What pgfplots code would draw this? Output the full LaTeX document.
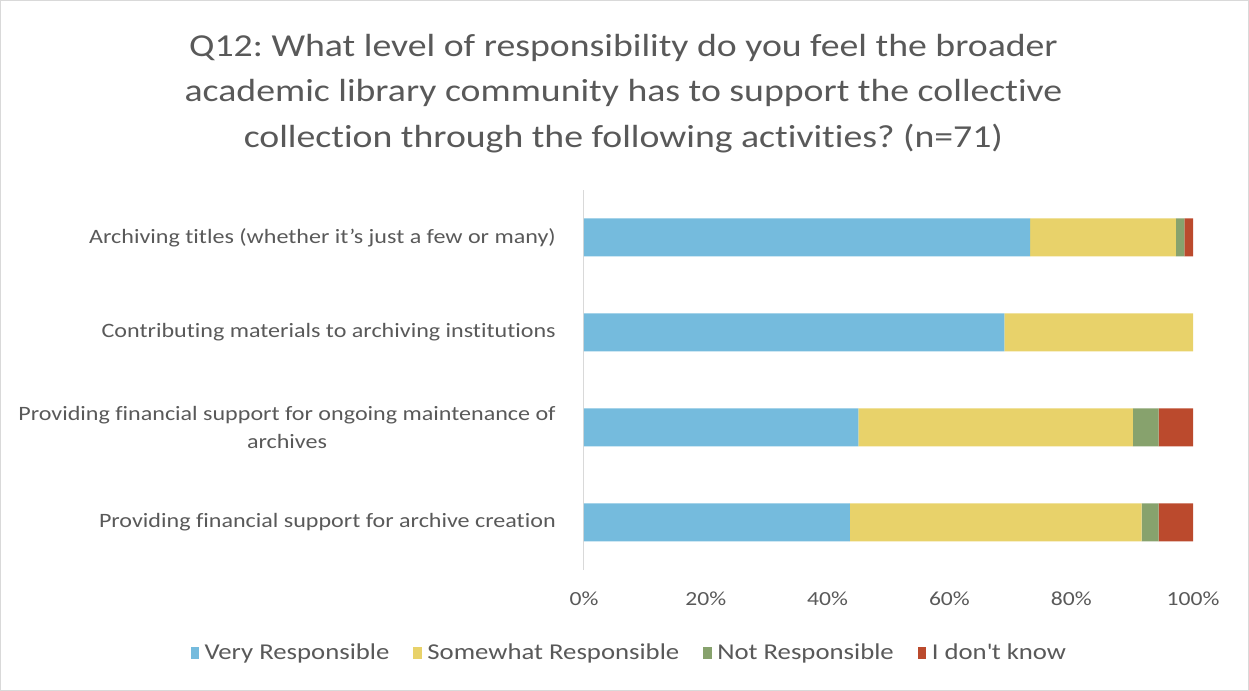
\documentclass[border=0pt]{standalone}
\usepackage{pgfplots}
\pgfplotsset{compat=1.18}
\usepackage{fontspec}
\setmainfont{Carlito}[FakeStretch=1.18, Ligatures={NoCommon}]
\frenchspacing
\definecolor{vr}{RGB}{117,187,221}
\definecolor{sr}{RGB}{232,210,106}
\definecolor{nr}{RGB}{135,162,109}
\definecolor{dk}{RGB}{187,74,45}
\definecolor{txt}{RGB}{89,89,89}
\definecolor{frame}{RGB}{217,217,217}
\begin{document}
\begin{tikzpicture}
\draw[frame, line width=0.75pt] (0.4pt,0.4pt) rectangle (936.35pt,517.85pt);
\node[anchor=north, align=center, inner sep=0pt, text=txt, font=\fontsize{24pt}{34pt}\selectfont] at (467.6pt,492.75pt)
{Q12: What level of responsibility do you feel the broader\\academic library community has to support the collective\\collection through the following activities? (n=71)};
\begin{axis}[
  at={(438pt,90.75pt)}, anchor=south west,
  scale only axis, width=456.75pt, height=285pt,
  xbar stacked, bar width=28.5pt,
  xmin=0, xmax=100, ymin=-0.5, ymax=3.5,
  axis y line*=left, axis x line*=bottom,
  x axis line style={draw=none},
  y axis line style={draw=frame, line width=0.75pt},
  major tick length=0pt,
  xtick={0,20,40,60,80,100},
  xticklabel={\pgfmathprintnumber{\tick}\%},
  /pgf/number format/assume math mode=true,
  xticklabel style={font=\fontsize{15pt}{18pt}\selectfont, text=txt, anchor=north, inner sep=0pt, yshift=-16.5pt},
  ytick={0,1,2,3},
  yticklabels={Providing financial support for archive creation,
    {Providing financial support for ongoing maintenance of\\archives},
    Contributing materials to archiving institutions,
    Archiving titles (whether it’s just a few or many)},
  yticklabel style={font=\fontsize{15.3pt}{21pt}\selectfont, text=txt, align=center, anchor=east, inner sep=0pt, xshift=-21pt},
  legend columns=4,
  legend style={draw=none, at={(0.075,-0.218)}, anchor=center,
    font=\fontsize{17pt}{20pt}\selectfont, text=txt,
    /tikz/every odd column/.append style={column sep=2pt},
    /tikz/every even column/.append style={column sep=16pt}},
  legend image code/.code={\fill[#1] (0pt,-4.5pt) rectangle (6.5pt,4.5pt);},
]
\addplot[fill=vr, draw=none] coordinates {(43.66,0) (45.07,1) (69.01,2) (73.24,3)};
\addplot[fill=sr, draw=none] coordinates {(47.89,0) (45.07,1) (30.99,2) (23.94,3)};
\addplot[fill=nr, draw=none] coordinates {(2.82,0) (4.23,1) (0,2) (1.41,3)};
\addplot[fill=dk, draw=none] coordinates {(5.63,0) (5.63,1) (0,2) (1.41,3)};
\legend{Very Responsible, Somewhat Responsible, Not Responsible, I don\textquotesingle t know}
\end{axis}
\end{tikzpicture}
\end{document}
